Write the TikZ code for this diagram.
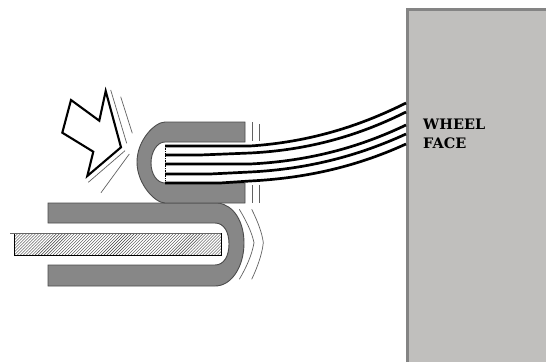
\documentclass[tikz,border=0pt]{standalone}
\usepackage{fontspec}
\setmainfont{DejaVu Serif}
\usetikzlibrary{patterns}
\definecolor{clipgray}{HTML}{878787}
\definecolor{wheelgray}{HTML}{C0BFBD}
\definecolor{wheeledge}{HTML}{848484}
\tikzset{
  clipshape/.style={fill=clipgray,draw=black!70,line width=0.9pt},
  fibre/.style={line width=2.7pt,black},
  motion/.style={line width=0.7pt,black!62},
  walllabel/.style={font=\bfseries\fontsize{14.5}{16}\selectfont,anchor=base west,inner sep=0pt}
}
\begin{document}
\begin{tikzpicture}[x=1bp,y=-1bp]
\useasboundingbox (0,0) rectangle (546,362);
\fill[white] (0,0) rectangle (546,362);
% wheel
\fill[wheelgray] (407,9) rectangle (546,362);
\draw[wheeledge,line width=3pt] (407.5,362) -- (407.5,9.5) -- (546,9.5);
\node[walllabel] (wheel) at (423,129) {WHEEL};
\node[walllabel] (face) at (423,148) {FACE};
% lower clip
\draw[clipshape] (48,203) -- (218,203) .. controls (234,205) and (244,222) .. (244,243)
  .. controls (244,266) and (232,286) .. (215,286) -- (48,286) -- (48,265) -- (215,265)
  .. controls (224,265) and (229,256) .. (229,244) .. controls (229,232) and (224,223) .. (215,223)
  -- (48,223) -- cycle;
% hatched blank
\fill[white] (14,233) rectangle (221,255);
\path[pattern=north east lines,pattern color=black!75] (14,233) rectangle (221,255);
\draw[black,line width=0.7pt] (14,233) -- (14,255) -- (221,255) -- (221,233);
\draw[black!60,line width=0.8pt] (10,233) -- (221,233);
% upper clip
\draw[clipshape] (245,122) -- (165,122) .. controls (155,122) and (137,140) .. (137,162)
  .. controls (137,184) and (155,203) .. (165,203) -- (245,203) -- (245,183) -- (165,183)
  .. controls (157,183) and (151,174) .. (151,163) .. controls (151,152) and (157,142) .. (165,142)
  -- (245,142) -- cycle;
% fibres
\draw[black,line width=0.7pt,densely dotted] (165,146) -- (165,183);
\draw[fibre] (165,146) -- (250,146) .. controls (310,142) and (360,126) .. (406,103);
\draw[fibre] (165,155) -- (200,155) -- (250,153) .. controls (310,150) and (360,135) .. (406,112);
\draw[fibre] (165,164) -- (250,164) .. controls (310,161) and (360,147) .. (406,125);
\draw[fibre] (165,174) -- (210,174) -- (250,172) .. controls (310,169) and (360,155) .. (406,134);
\draw[fibre] (165,183) -- (220,183) -- (250,181) .. controls (310,178) and (360,165) .. (406,144);
% arrow
\draw[black,line width=2.1pt,fill=white,line join=miter] (105.7,91) -- (99.3,120.7) -- (71,100) -- (62.3,132.7)
  -- (93.3,151.7) -- (87.3,176) -- (121,147.3) -- cycle;
% motion marks
\draw[motion] (110.7,90) -- (126.7,143.3);
\draw[motion] (120.7,96.7) -- (132.3,133.3);
\draw[motion] (88.3,182.3) -- (125,150.7);
\draw[motion] (101,192.7) -- (129.3,154);
\draw[motion] (252.5,122) -- (252.5,141);
\draw[motion] (259,124) -- (259,141);
\draw[motion] (252,185) -- (252,203);
\draw[motion] (259,185) -- (259,203);
\draw[motion] (239.3,209.3) .. controls (247,222) and (252,233) .. (254,242.7) .. controls (252,255) and (246,268) .. (239.3,279.3);
\draw[motion] (251.7,209.3) .. controls (257,220) and (262,232) .. (263.3,242.7) .. controls (262,255) and (257,268) .. (251.7,279.3);
\end{tikzpicture}
\end{document}
